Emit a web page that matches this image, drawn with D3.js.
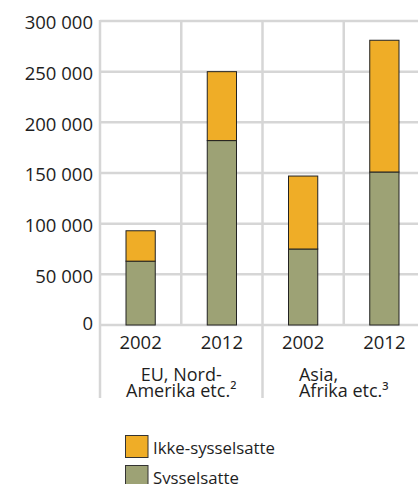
<!DOCTYPE html>
<html><head><meta charset="utf-8">
<script src="https://cdn.jsdelivr.net/npm/d3@7"></script>
<style>
html,body{margin:0;padding:0;background:#fff;}
text{font-family:"Open Sans",sans-serif;fill:#1e1e1e;}
</style></head>
<body><svg id="c" width="418" height="484"></svg>
<script>
const categories = ["EU-2002","EU-2012","AS-2002","AS-2012"];
const yearLabels = ["2002","2012","2002","2012"];
const groupLabels = [["EU, Nord-","Amerika etc.²"],["Asia,","Afrika etc.³"]];
const sysselsatte = [63000,182000,75000,151000];
const ikkeSysselsatte = [30000,68000,72000,130000];
const yTicks = [0,50000,100000,150000,200000,250000,300000];
const seriesNames = ["Ikke-sysselsatte","Sysselsatte"];
const seriesColors = ["#EFAD27","#9DA275"];

const svg = d3.select("#c");
const fs = 18.5;
const y = d3.scaleLinear().domain([0,300000]).range([325,21]);
const x = d3.scaleBand().domain(categories).range([100,425]).paddingInner(0.64).paddingOuter(0.32);
const cell = d3.scaleBand().domain(categories).range([100,425]).padding(0);
const grid = "#d6d6d6";

// horizontal gridlines
svg.append("g").selectAll("line").data(yTicks).join("line")
  .attr("x1",100).attr("x2",425).attr("y1",d=>y(d)).attr("y2",d=>y(d))
  .attr("stroke",grid).attr("stroke-width",2.5);
// vertical gridlines in plot
svg.append("g").selectAll("line").data(categories.slice(1)).join("line")
  .attr("x1",d=>cell(d)).attr("x2",d=>cell(d)).attr("y1",y(300000)).attr("y2",y(0))
  .attr("stroke",grid).attr("stroke-width",2.5);
// left axis line extending into category area
svg.append("line").attr("x1",100).attr("x2",100).attr("y1",y(300000)-1).attr("y2",398)
  .attr("stroke",grid).attr("stroke-width",2.5);
// group separator in category area
svg.append("line").attr("x1",cell(categories[2])).attr("x2",cell(categories[2])).attr("y1",y(0)).attr("y2",398)
  .attr("stroke",grid).attr("stroke-width",2.5);

// y tick labels
svg.append("g").selectAll("text").data(yTicks).join("text")
  .attr("x",93).attr("y",d=>y(d) + (d===0 ? 5 : 8.3))
  .attr("text-anchor","end").attr("font-size",fs)
  .text(d=>d3.format(",")(d).replace(/,/g," "));

// stacked bars
const stackData = categories.map((c,i)=>({c, s:sysselsatte[i], k:ikkeSysselsatte[i]}));
const stack = d3.stack().keys(["s","k"])(stackData);
const colorByKey = {s:seriesColors[1], k:seriesColors[0]};
stack.forEach(layer=>{
  svg.append("g").selectAll("rect").data(layer).join("rect")
    .attr("x",d=>x(d.data.c)).attr("width",x.bandwidth())
    .attr("y",d=>y(d[1])).attr("height",d=>y(d[0])-y(d[1]))
    .attr("fill",colorByKey[layer.key]).attr("stroke","#222").attr("stroke-width",1);
});

// year labels
svg.append("g").selectAll("text").data(categories).join("text")
  .attr("x",d=>x(d)+x.bandwidth()/2).attr("y",349)
  .attr("text-anchor","middle").attr("font-size",fs)
  .text((d,i)=>yearLabels[i]);

// group labels
const groupCenters = [ (cell(categories[0])+cell(categories[1])+cell.bandwidth())/2,
                       (cell(categories[2])+cell(categories[3])+cell.bandwidth())/2 ];
groupLabels.forEach((lines,g)=>{
  const t = svg.append("text").attr("font-size",18).attr("text-anchor","middle");
  const spans = lines.map((ln,j)=> t.append("tspan").attr("x",groupCenters[g]).attr("y",381+j*15.7).text(ln));
  if(g===1){
    const w = spans[1].node().getComputedTextLength();
    const start = groupCenters[g]-w/2;
    t.attr("text-anchor","start");
    spans.forEach(s=>s.attr("x",start));
  }
});

// legend
const leg = svg.append("g");
seriesNames.forEach((n,i)=>{
  leg.append("rect").attr("x",125.5).attr("y",435.5+i*30).attr("width",22.5).attr("height",22)
    .attr("fill",seriesColors[i]).attr("stroke","#333").attr("stroke-width",1);
  leg.append("text").attr("x",153).attr("y",454+i*29.5).attr("font-size",16.8).text(n);
});
</script></body></html>
